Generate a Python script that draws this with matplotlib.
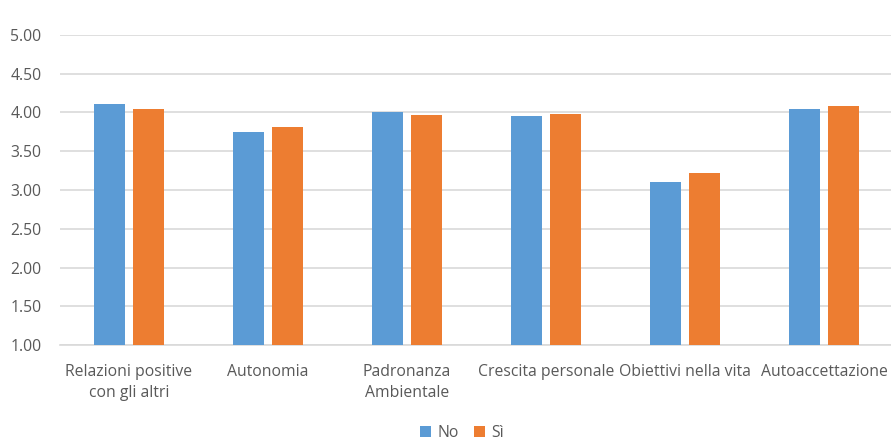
import numpy as np
import matplotlib.pyplot as plt

categories = ["Relazioni positive\ncon gli altri", "Autonomia", "Padronanza\nAmbientale",
              "Crescita personale", "Obiettivi nella vita", "Autoaccettazione"]
no_values = [4.11, 3.75, 4.01, 3.95, 3.10, 4.05]
si_values = [4.04, 3.81, 3.97, 3.98, 3.22, 4.09]
series_names = ["No", "Sì"]

blue = "#5B9BD5"
orange = "#ED7D31"
text_grey = "#595959"
grid_grey = "#D9D9D9"

plt.rcParams['font.family'] = ['Open Sans', 'DejaVu Sans']

fig = plt.figure(figsize=(8.91, 4.43), dpi=100)
ax = fig.add_axes([59.5 / 891, 98 / 443, 834 / 891, 310 / 443])

x = np.arange(len(categories))
width = 0.225
ax.bar(x - 0.14, no_values, width, color=blue, label=series_names[0], zorder=3)
ax.bar(x + 0.14, si_values, width, color=orange, label=series_names[1], zorder=3)

ax.set_xlim(-0.5, len(categories) - 0.5)
ax.set_ylim(1.0, 5.0)
ax.set_yticks(np.arange(1.0, 5.01, 0.5))
ax.set_yticklabels([f"{v:.2f}" for v in np.arange(1.0, 5.01, 0.5)])
ax.yaxis.grid(True, color=grid_grey, linewidth=1.2, zorder=0)
ax.set_axisbelow(True)

ax.set_xticks(x)
ax.set_xticklabels(categories, linespacing=1.4)
ax.tick_params(axis='both', length=0, labelsize=11.3, colors=text_grey)
ax.tick_params(axis='y', pad=13)
ax.tick_params(axis='x', pad=14)

for side in ['top', 'right', 'left']:
    ax.spines[side].set_visible(False)
ax.spines['bottom'].set_color(grid_grey)
ax.spines['bottom'].set_linewidth(1.2)

leg = fig.legend(loc='center', bbox_to_anchor=(462 / 891, 1 - 433 / 443), ncol=2, frameon=False,
                 fontsize=11.3, handlelength=0.7, handleheight=0.7, handletextpad=0.4, columnspacing=1.0)
for t in leg.get_texts():
    t.set_color(text_grey)

fig.savefig("out.png", dpi=100)
